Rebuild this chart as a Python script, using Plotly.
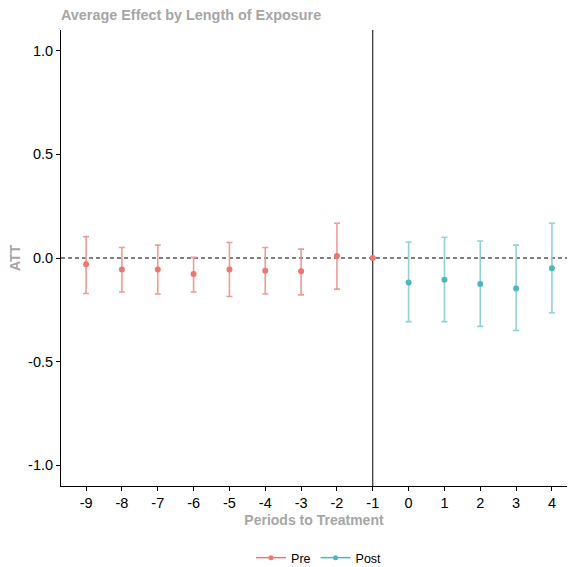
import plotly.graph_objects as go

pre_x = [-9, -8, -7, -6, -5, -4, -3, -2, -1]
pre_att = [-0.030, -0.056, -0.056, -0.077, -0.056, -0.061, -0.064, 0.010, 0.0]
pre_hi = [0.103, 0.051, 0.062, 0.003, 0.075, 0.051, 0.043, 0.168, 0.0]
pre_lo = [-0.171, -0.164, -0.174, -0.164, -0.186, -0.174, -0.178, -0.150, 0.0]

post_x = [0, 1, 2, 3, 4]
post_att = [-0.118, -0.105, -0.126, -0.147, -0.049]
post_hi = [0.077, 0.100, 0.082, 0.062, 0.168]
post_lo = [-0.307, -0.307, -0.330, -0.350, -0.264]

x_ticks = list(range(-9, 5))
y_ticks = [-1.0, -0.5, 0.0, 0.5, 1.0]
y_tick_text = ["-1.0", "-0.5", "0.0", "0.5", "1.0"]

RED = "#EA7870"
RED_BAR = "#F09B95"
TEAL = "#4DB6C0"
TEAL_BAR = "#90D2D7"

fig = go.Figure()

def add_series(xs, att, hi, lo, color, barcolor, name):
    fig.add_trace(go.Scatter(
        x=xs, y=att, mode="markers", name=name, showlegend=False,
        marker=dict(color=color, size=6),
        error_y=dict(type="data", symmetric=False,
                     array=[h - a for h, a in zip(hi, att)],
                     arrayminus=[a - l for a, l in zip(att, lo)],
                     color=barcolor, thickness=1.6, width=3),
    ))
    fig.add_trace(go.Scatter(
        x=[None], y=[None], mode="lines+markers", name=name,
        line=dict(color=color, width=1.5), marker=dict(color=color, size=5),
    ))

add_series(pre_x, pre_att, pre_hi, pre_lo, RED, RED_BAR, "Pre")
add_series(post_x, post_att, post_hi, post_lo, TEAL, TEAL_BAR, "Post")

fig.add_hline(y=0, line=dict(color="black", width=1.2, dash="4px,3px"), layer="below")
fig.add_vline(x=-1, line=dict(color="black", width=1), layer="below")

grey = "#a6a6a6"
fig.update_layout(
    width=568, height=567,
    margin=dict(l=61, r=1, t=30, b=81, autoexpand=False),
    paper_bgcolor="white", plot_bgcolor="white",
    font=dict(family="Liberation Sans, Arial, sans-serif", color="black", size=14),
    title=dict(text="<b>Average Effect by Length of Exposure</b>",
               font=dict(size=14.4, color=grey), x=61/568, xanchor="left",
               y=1 - 15/567, yanchor="middle"),
    xaxis=dict(range=[-9.70, 4.42], tickvals=x_ticks, ticktext=[str(v) for v in x_ticks],
               showgrid=False, zeroline=False, showline=True, linecolor="black", linewidth=1,
               ticks="outside", ticklen=4, tickcolor="black", tickfont=dict(size=14.5, color="black"),
               automargin=False,
               title=dict(text="<b>Periods to Treatment</b>", font=dict(size=14, color=grey), standoff=4)),
    yaxis=dict(range=[-1.10, 1.10], tickvals=y_ticks, ticktext=y_tick_text,
               showgrid=False, zeroline=False, showline=True, linecolor="black", linewidth=1,
               ticks="outside", ticklen=4, tickcolor="black", tickfont=dict(size=14.5, color="black"),
               automargin=False,
               title=dict(text="<b>ATT</b>", font=dict(size=14, color=grey), standoff=4)),
    legend=dict(orientation="h", x=0.51, xanchor="center", yref="container",
                y=1 - 558/567, yanchor="middle",
                font=dict(size=12.5, color="black"), itemwidth=30),
)

fig.write_html("out.html")
